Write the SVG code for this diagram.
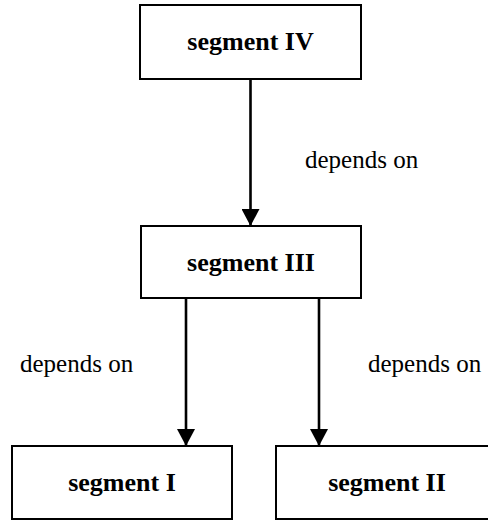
<svg xmlns="http://www.w3.org/2000/svg" width="488" height="520" viewBox="0 0 488 520">
  <style>
    .box { fill: #fff; stroke: #000; stroke-width: 2; }
    .name { font-family: "Liberation Serif", "Times New Roman", serif; font-weight: bold; font-size: 26px; text-anchor: middle; fill: #000; }
    .lbl { font-family: "Liberation Serif", "Times New Roman", serif; font-size: 25px; fill: #000; }
    .edge { stroke: #000; stroke-width: 2.6; fill: none; }
  </style>
  <defs>
    <marker id="arrow" markerUnits="userSpaceOnUse" markerWidth="18" markerHeight="18" refX="17" refY="9" orient="auto">
      <path d="M0,0 L17,9 L0,18 Z" fill="#000"/>
    </marker>
  </defs>
  <rect width="488" height="520" fill="#fff"/>

  <g id="connectors">
    <line class="edge" x1="250.5" y1="79" x2="250.5" y2="226" marker-end="url(#arrow)"/>
    <line class="edge" x1="186" y1="298" x2="186" y2="446" marker-end="url(#arrow)"/>
    <line class="edge" x1="319" y1="298" x2="319" y2="446" marker-end="url(#arrow)"/>
    <text class="lbl" x="305" y="168">depends on</text>
    <text class="lbl" x="20" y="372">depends on</text>
    <text class="lbl" x="368" y="372">depends on</text>
  </g>

  <g id="segment-IV">
    <rect class="box" x="140" y="5" width="221" height="74"/>
    <text class="name" x="250.5" y="50">segment IV</text>
  </g>

  <g id="segment-III">
    <rect class="box" x="141" y="226" width="220" height="72"/>
    <text class="name" x="251" y="271">segment III</text>
  </g>

  <g id="segment-I">
    <rect class="box" x="12" y="446" width="220" height="73"/>
    <text class="name" x="122" y="491">segment I</text>
  </g>

  <g id="segment-II">
    <rect class="box" x="276" y="446" width="222" height="73"/>
    <text class="name" x="387" y="491">segment II</text>
  </g>
</svg>
